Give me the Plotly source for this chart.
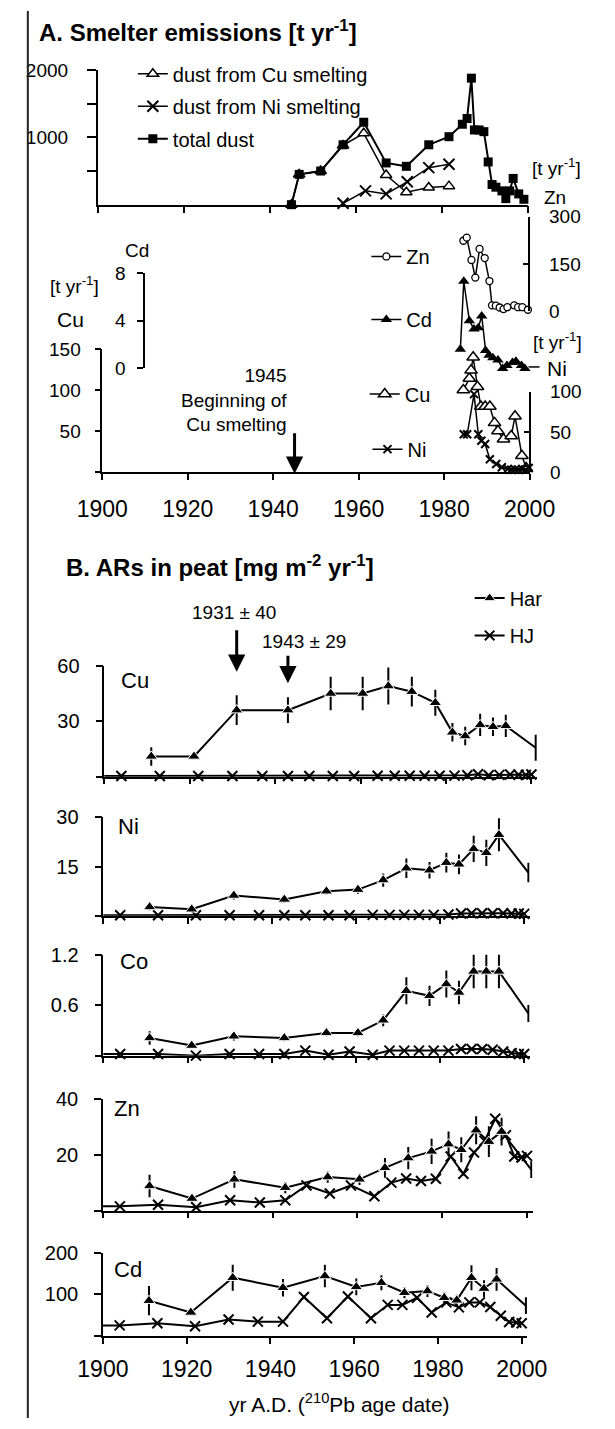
import plotly.graph_objects as go

W, H = 615, 1429
FONT = "Liberation Sans, Arial, Helvetica, sans-serif"
BLACK = "black"

# ------------------------------------------------------------------
# DATA
# ------------------------------------------------------------------
year_ticks = [1900, 1920, 1940, 1960, 1980, 2000]
year_labels = ["1900", "1920", "1940", "1960", "1980", "2000"]

# A. Smelter emissions -- dust [t yr-1]
dust_cu_year = [1945, 1946.8, 1951.8, 1957.0, 1961.8, 1967.0, 1971.7, 1976.9, 1981.6]
dust_cu = [0, 450, 500, 880, 1060, 440, 185, 255, 275]
dust_ni_year = [1957.0, 1962.2, 1967.0, 1971.9, 1976.9, 1981.6]
dust_ni = [20, 205, 160, 340, 550, 600]
dust_total_year = [1945, 1946.8, 1951.8, 1957.0, 1961.8, 1967.0, 1971.7, 1976.9, 1981.6,
                   1984.7, 1985.8, 1986.8, 1987.5, 1988.6, 1989.7, 1990.7, 1991.6, 1992.5,
                   1993.9, 1994.8, 1995.7, 1996.5, 1997.8, 1999.0]
dust_total = [0, 450, 500, 890, 1225, 620, 570, 890, 1010,
              1195, 1280, 1880, 1110, 1110, 1085, 635, 300, 260,
              205, 90, 205, 390, 160, 80]

# A. Smelter emissions -- metals [t yr-1]
em_zn_year = [1984.5, 1985.3, 1986.4, 1987.3, 1988.3, 1989.5, 1990.6, 1991.2, 1992.1,
              1993.0, 1993.9, 1994.8, 1996.4, 1997.3, 1998.3, 1999.6]
em_zn = [224, 234, 163, 107, 198, 169, 96, 19, 18, 12, 7, 13, 19, 13, 13, 5]
em_cd_year = [1983.8, 1984.6, 1985.9, 1987.0, 1988.0, 1988.8, 1989.7, 1990.5, 1991.4,
              1992.6, 1993.7, 1994.7, 1996.0, 1996.8, 1998.1, 1998.9]
em_cd = [1.6, 7.3, 4.0, 3.3, 3.4, 4.4, 1.5, 1.1, 0.9, 0.7, 0.0, 0.25, 0.5, 0.6, 0.25, 0.0]
em_cu_year = [1984.5, 1985.9, 1986.3, 1986.8, 1987.8, 1988.6, 1989.6, 1990.7, 1991.8,
              1992.6, 1993.9, 1995.7, 1996.6, 1998.2, 1999.2]
em_cu = [100, 114, 124, 140, 104, 80, 80, 80, 60, 50, 40, 44, 68, 20, 5]
em_ni_year = [1984.6, 1985.4, 1987.0, 1988.0, 1988.7, 1989.6, 1990.7, 1992.2, 1993.5,
              1994.9, 1995.7, 1996.6, 1997.4, 1998.3, 1999.1, 1999.8]
em_ni = [47, 47, 97, 47, 39, 35, 16, 10, 6, 4, 3, 3, 3, 4, 3, 5]

# B. ARs in peat [mg m-2 yr-1]
har_year = [1911, 1921, 1931, 1943, 1953, 1960.5, 1966.5, 1972, 1977.5, 1981.5,
            1984.5, 1988, 1991, 1994, 2001]
har_cu = [11, 11, 36, 36, 45, 45, 49, 46, 40, 24, 22, 28, 27, 27.5, 15.7]
har_cu_err = [5, 1, 8, 7, 9, 9, 10, 8, 7, 5, 5, 6, 5, 6, 7]
har_ni = [2.7, 2.0, 6.2, 5.0, 7.5, 8.0, 10.9, 14.5, 13.9, 16.2, 15.7, 20.4, 19.2, 24.7, 13.2]
har_ni_err = [1, 0.5, 1.2, 1, 1, 1.3, 2, 3, 2.5, 3, 3, 4, 4, 5, 3]
har_co = [0.21, 0.12, 0.23, 0.21, 0.27, 0.27, 0.42, 0.77, 0.71, 0.85, 0.75, 1.0, 1.0, 1.0, 0.5]
har_co_err = [0.08, 0.03, 0.05, 0.04, 0.04, 0.04, 0.07, 0.16, 0.12, 0.16, 0.14, 0.2, 0.2, 0.2, 0.1]
har_zn = [8.8, 4.3, 11.2, 8.2, 12, 11.2, 15.3, 18.8, 21.2, 23.8, 21.8, 28.8, 24.7, 28.3, 14.7]
har_zn_err = [4, 1.5, 3, 2, 2, 2, 3.5, 4, 4.5, 4.5, 4.5, 5, 5.5, 5, 3]
har_cd = [85, 57, 140, 116, 144, 118, 128, 104, 108, 92, 86, 140, 114, 136, 73]
har_cd_err = [35, 6, 31, 21, 27, 20, 18, 13, 14, 13, 13, 30, 20, 27, 20]

hj_year = [1896, 1904, 1913, 1922, 1930, 1937, 1943, 1948, 1953.5, 1958.5, 1964, 1968,
           1971.5, 1975, 1978.5, 1982, 1985, 1987.5, 1990, 1992.5, 1995, 1997, 1998.7, 2000]
hj_cu = [0.4, 0.4, 0.4, 0.4, 0.4, 0.4, 0.4, 0.4, 0.4, 0.4, 0.5, 0.5,
         0.5, 0.5, 0.5, 0.6, 0.8, 1.3, 0.8, 1.0, 1.2, 1.1, 1.0, 1.2]
hj_ni = [0.2, 0.2, 0.2, 0.2, 0.2, 0.2, 0.2, 0.2, 0.2, 0.2, 0.3, 0.3,
         0.3, 0.3, 0.3, 0.4, 0.7, 0.8, 0.8, 0.8, 0.8, 0.7, 0.7, 0.6]
hj_co = [0.02, 0.02, 0.02, 0.0, 0.02, 0.02, 0.02, 0.06, 0.01, 0.05, 0.01, 0.06,
         0.06, 0.06, 0.06, 0.06, 0.08, 0.08, 0.08, 0.07, 0.05, 0.03, 0.02, 0.02]
hj_zn = [1.5, 1.5, 2.1, 1.2, 3.7, 2.9, 3.7, 9, 6.1, 9, 5.1, 10,
         11.5, 10.6, 11.4, 19.4, 13.2, 20.8, 25, 32.9, 27, 19.4, 19, 19.6]
hj_cd = [26, 26, 31, 24, 40, 35, 35, 94, 43, 95, 43, 75,
         75, 92, 57, 81, 69, 81, 81, 70, 49, 34, 33, 31]

# ------------------------------------------------------------------
# LAYOUT HELPERS (pixel positions -> paper fractions)
# ------------------------------------------------------------------
def fx(px):
    return px / W


def fy(py):
    return 1 - py / H


def xdom(x1900, x2000, xmax):
    s = (x2000 - x1900) / 100.0
    return [fx(x1900), fx(x1900 + (xmax - 1900) * s)]


axis_common = dict(showline=True, linecolor=BLACK, linewidth=1.5, showgrid=False,
                   zeroline=False, ticks="outside", ticklen=6, tickwidth=1.5,
                   tickcolor=BLACK, fixedrange=True)

fig = go.Figure()
layout = dict(width=W, height=H, margin=dict(l=0, r=0, t=0, b=0),
              paper_bgcolor="white", plot_bgcolor="rgba(0,0,0,0)",
              font=dict(family=FONT, color=BLACK, size=19), showlegend=True)

# ---------------- Panel A top: dust ----------------
layout["xaxis"] = dict(axis_common, domain=xdom(78.3, 548.6, 2000), range=[1900, 2000],
                       tickvals=year_ticks, showticklabels=False, ticklen=7, anchor="y")
layout["yaxis"] = dict(axis_common, domain=[fy(196.7), fy(60)], range=[0, 2000],
                       tickvals=[500, 1000, 1500, 2000], ticktext=["", "1000", "", "2000"],
                       ticklen=9, tickfont=dict(size=19), ticklabelstandoff=15, anchor="x")

line_a = dict(color=BLACK, width=1.5)
fig.add_trace(go.Scatter(x=dust_cu_year, y=dust_cu, mode="lines+markers",
                         name="dust from Cu smelting", line=line_a,
                         marker=dict(symbol="triangle-up", size=10, color="white", opacity=1,
                                     line=dict(color=BLACK, width=1.5)),
                         xaxis="x", yaxis="y", cliponaxis=False,
                         legend="legend", legendgroup="a1"))
fig.add_trace(go.Scatter(x=dust_ni_year, y=dust_ni, mode="lines+markers",
                         name="dust from Ni smelting", line=line_a,
                         marker=dict(symbol="x-thin", size=11, color=BLACK, opacity=1,
                                     line=dict(color=BLACK, width=2)),
                         xaxis="x", yaxis="y", cliponaxis=False,
                         legend="legend", legendgroup="a2"))
fig.add_trace(go.Scatter(x=dust_total_year, y=dust_total, mode="lines+markers",
                         name="total dust", line=dict(color=BLACK, width=2),
                         marker=dict(symbol="square", size=9, color=BLACK, opacity=1),
                         xaxis="x", yaxis="y", cliponaxis=False,
                         legend="legend", legendgroup="a3"))

# ---------------- Panel A middle: metals ----------------
layout["xaxis2"] = dict(axis_common, domain=xdom(83.3, 550.1, 2000), range=[1900, 2000],
                        tickvals=year_ticks, ticktext=year_labels,
                        tickfont=dict(size=23), ticklabelstandoff=10, anchor="y4")
layout["yaxis2"] = dict(axis_common, domain=[fy(305), fy(209)], range=[0, 300],
                        anchor="free", position=fx(550), side="right", ticks="inside",
                        tickvals=[0, 150, 300], tickfont=dict(size=19), ticklabelstandoff=15)
layout["yaxis3"] = dict(axis_common, domain=[fy(363), fy(266)], range=[0, 8],
                        anchor="free", position=fx(129), side="left",
                        tickvals=[0, 4, 8], tickfont=dict(size=19), ticklabelstandoff=8)
layout["yaxis4"] = dict(axis_common, domain=[fy(468.3), fy(343.3)], range=[0, 150],
                        anchor="x2", tickvals=[0, 50, 100, 150],
                        ticktext=["", "50", "100", "150"],
                        tickfont=dict(size=19), ticklabelstandoff=10)
layout["yaxis5"] = dict(axis_common, domain=[fy(468.3), fy(386.7)], range=[0, 100],
                        anchor="free", position=fx(551), side="right", ticks="inside",
                        tickvals=[0, 50, 100], tickfont=dict(size=19), ticklabelstandoff=15)

fig.add_trace(go.Scatter(x=em_zn_year, y=em_zn, mode="lines+markers", name="Zn",
                         line=line_a,
                         marker=dict(symbol="circle", size=7, color="white", opacity=1,
                                     line=dict(color=BLACK, width=1.3)),
                         xaxis="x2", yaxis="y2", cliponaxis=False, legend="legend2"))
fig.add_trace(go.Scatter(x=em_cd_year, y=em_cd, mode="lines+markers", name="Cd",
                         line=line_a,
                         marker=dict(symbol="triangle-up", size=10, color=BLACK, opacity=1),
                         xaxis="x2", yaxis="y3", cliponaxis=False, legend="legend3"))
fig.add_trace(go.Scatter(x=em_cu_year, y=em_cu, mode="lines+markers", name="Cu",
                         line=line_a,
                         marker=dict(symbol="triangle-up", size=11, color="white", opacity=1,
                                     line=dict(color=BLACK, width=1.5)),
                         xaxis="x2", yaxis="y4", cliponaxis=False, legend="legend4"))
fig.add_trace(go.Scatter(x=em_ni_year, y=em_ni, mode="lines+markers", name="Ni",
                         line=line_a,
                         marker=dict(symbol="x-thin", size=8, color=BLACK, opacity=1,
                                     line=dict(color=BLACK, width=2)),
                         xaxis="x2", yaxis="y5", cliponaxis=False, legend="legend5"))

# ---------------- Panel B: accumulation rates ----------------
b_geo = [
    dict(x1900=85.5, x2000=552.1, ybot=777.7, ytop=665, yr=[0, 60],
         tv=[0, 30, 60], tt=["", "30", "60"], lab_x=101.7, lab_y=680),
    dict(x1900=84.5, x2000=544.2, ybot=919, ytop=819, yr=[0, 30],
         tv=[0, 15, 30], tt=["", "15", "30"], lab_x=98, lab_y=828),
    dict(x1900=84.5, x2000=544.2, ybot=1061, ytop=958.3, yr=[0, 1.2],
         tv=[0, 0.6, 1.2], tt=["", "0.6", "1.2"], lab_x=100, lab_y=965),
    dict(x1900=84.0, x2000=547.3, ybot=1218.3, ytop=1105, yr=[0, 40],
         tv=[0, 20, 40], tt=["", "20", "40"], lab_x=94, lab_y=1115),
    dict(x1900=84.0, x2000=541.5, ybot=1346, ytop=1261, yr=[0, 200],
         tv=[0, 100, 200], tt=["", "100", "200"], lab_x=94, lab_y=1278),
]
b_names = ["Cu", "Ni", "Co", "Zn", "Cd"]
b_har = [har_cu, har_ni, har_co, har_zn, har_cd]
b_har_err = [har_cu_err, har_ni_err, har_co_err, har_zn_err, har_cd_err]
b_hj = [hj_cu, hj_ni, hj_co, hj_zn, hj_cd]

har_sizes = [11] * (len(har_year) - 1) + [0]
hj_sizes = [0] + [10] * (len(hj_year) - 1)

annotations = []
for i, g in enumerate(b_geo):
    xa = "xaxis%d" % (3 + i)
    ya = "yaxis%d" % (6 + i)
    xr = "x%d" % (3 + i)
    yr_ = "y%d" % (6 + i)
    last = i == len(b_geo) - 1
    layout[xa] = dict(axis_common, domain=xdom(g["x1900"], g["x2000"], 2001.3),
                      range=[1900, 2001.3], tickvals=year_ticks,
                      ticktext=year_labels, showticklabels=last,
                      tickfont=dict(size=23), ticklabelstandoff=5, anchor=yr_)
    layout[ya] = dict(axis_common, domain=[fy(g["ybot"]), fy(g["ytop"])], range=g["yr"],
                      tickvals=g["tv"], ticktext=g["tt"], tickfont=dict(size=20),
                      ticklen=7, ticklabelstandoff=12, anchor=xr)
    fig.add_trace(go.Scatter(x=hj_year, y=b_hj[i], mode="lines+markers", name="HJ",
                             line=dict(color=BLACK, width=2),
                             marker=dict(symbol="x-thin", size=hj_sizes, color=BLACK,
                                         opacity=1, line=dict(color=BLACK, width=2)),
                             xaxis=xr, yaxis=yr_, cliponaxis=False,
                             showlegend=(i == 0), legend="legend6",
                             legendgroup="hj", legendrank=2))
    fig.add_trace(go.Scatter(x=har_year, y=b_har[i], mode="lines+markers", name="Har",
                             line=dict(color=BLACK, width=2),
                             marker=dict(symbol="triangle-up", size=har_sizes, color=BLACK,
                                         opacity=1),
                             error_y=dict(type="data", array=b_har_err[i], symmetric=True,
                                          width=0, thickness=2, color=BLACK),
                             xaxis=xr, yaxis=yr_, cliponaxis=False,
                             showlegend=(i == 0), legend="legend6",
                             legendgroup="har", legendrank=1))
    annotations.append(dict(text=b_names[i], x=fx(g["lab_x"]), y=fy(g["lab_y"]),
                            xref="paper", yref="paper", xanchor="left", yanchor="middle",
                            showarrow=False, font=dict(size=22)))

# ---------------- Legends ----------------
leg_base = dict(xanchor="left", bgcolor="rgba(0,0,0,0)", borderwidth=0,
                font=dict(family=FONT, size=20, color=BLACK))
layout["legend"] = dict(leg_base, x=fx(116.7), y=fy(44), yanchor="top",
                        tracegroupgap=3.5, traceorder="grouped")
layout["legend2"] = dict(leg_base, x=fx(371.8), y=fy(249.3), yanchor="middle")
layout["legend3"] = dict(leg_base, x=fx(371.8), y=fy(313.3), yanchor="middle")
layout["legend4"] = dict(leg_base, x=fx(370), y=fy(389), yanchor="middle")
layout["legend5"] = dict(leg_base, x=fx(373), y=fy(445), yanchor="middle")
layout["legend6"] = dict(leg_base, x=fx(484.6), y=fy(576.5), yanchor="top",
                         tracegroupgap=8.3, traceorder="grouped")

# ---------------- Text annotations ----------------
def txt(text, x, y, size=19, xanchor="center", **kw):
    d = dict(text=text, x=fx(x), y=fy(y), xref="paper", yref="paper",
             xanchor=xanchor, yanchor="middle", showarrow=False, font=dict(size=size))
    d.update(kw)
    return d


annotations += [
    txt("<b>A. Smelter emissions [t yr<sup>-1</sup>]</b>", 12, 20, size=24, xanchor="left"),
    txt("[t yr<sup>-1</sup>]", 579, 158),
    txt("Zn", 578, 189),
    txt("Cd", 121, 243.3),
    txt("[t yr<sup>-1</sup>]", 53, 278.3),
    txt("Cu", 49, 313.3, size=21),
    txt("1945<br>Beginning of<br>Cu smelting", 287, 394.7, xanchor="right", align="right"),
    txt("[t yr<sup>-1</sup>]", 581, 335),
    txt("Ni", 567, 363, size=21, xanchor="left"),
    txt("<b>B. ARs in peat [mg m<sup>-2</sup> yr<sup>-1</sup>]</b>", 41, 563.3, size=24,
        xanchor="left"),
    txt("1931 ± 40", 227.5, 611),
    txt("1943 ± 29", 256, 640.7, xanchor="left"),
    txt("yr A.D. (<sup>210</sup>Pb age date)", 343, 1414, size=21),
]

# arrows (tips at given years on the time axes)
arrow_base = dict(text="", showarrow=True, arrowhead=2, arrowwidth=3, arrowsize=1.15,
                  arrowcolor=BLACK, ax=0, standoff=0, yref="paper")
annotations += [
    dict(arrow_base, x=1945, xref="x2", y=fy(470), ay=-42),
    dict(arrow_base, x=1931, xref="x3", y=fy(671), ay=-43),
    dict(arrow_base, x=1943, xref="x3", y=fy(682.7), ay=-29),
]
layout["annotations"] = annotations

layout["shapes"] = [
    dict(type="line", xref="paper", yref="paper", x0=fx(2), x1=fx(2), y0=0, y1=1,
         line=dict(color="#222222", width=2)),
    dict(type="line", xref="paper", yref="paper", x0=fx(549), x1=fx(561),
         y0=fy(361.5), y1=fy(361.5), line=dict(color=BLACK, width=1.5)),
]

fig.update_layout(layout)
fig.write_html(
    "out.html",
    post_script=("document.body.style.margin='0';document.body.style.padding='0';"
                 "document.documentElement.style.overflow='hidden';"),
)
